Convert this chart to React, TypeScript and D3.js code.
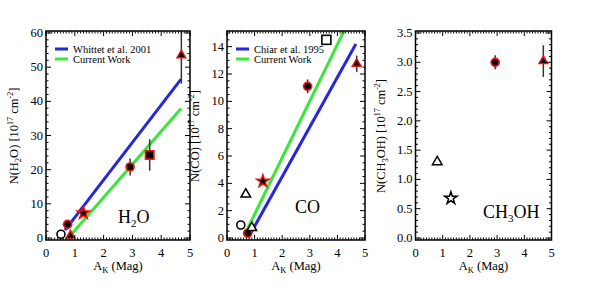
import * as d3 from "d3";

type Pt = { x: number; y: number; err?: number; sym: string; open?: boolean };

// ---- data ----
const h2oPoints: Pt[] = [
  { x: 0.52, y: 1.1, sym: "circle", open: true },
  { x: 0.75, y: 4.0, sym: "circle" },
  { x: 0.85, y: 0.7, sym: "triangle" },
  { x: 1.3, y: 7.3, sym: "star" },
  { x: 2.92, y: 20.8, err: 2.5, sym: "circle" },
  { x: 3.6, y: 24.3, err: 4.6, sym: "square" },
  { x: 4.7, y: 53.5, err: 8.3, sym: "triangle" },
];
const h2oWhittet: [number, number][] = [[0.66, 2.3], [4.69, 46.5]];
const h2oCurrent: [number, number][] = [[0.78, 0.1], [4.69, 37.9]];

const coPoints: Pt[] = [
  { x: 0.5, y: 0.95, sym: "circle", open: true },
  { x: 0.68, y: 3.2, sym: "triangle", open: true },
  { x: 0.75, y: 0.35, sym: "circle" },
  { x: 0.9, y: 0.75, sym: "triangle", open: true },
  { x: 1.3, y: 4.15, sym: "star" },
  { x: 2.92, y: 11.1, err: 0.5, sym: "circle" },
  { x: 3.6, y: 14.5, sym: "square", open: true },
  { x: 4.7, y: 12.75, err: 0.6, sym: "triangle" },
];
const coChiar: [number, number][] = [[0.78, 0.05], [4.67, 14.2]];
const coCurrent: [number, number][] = [[0.72, 0.58], [4.7, 17.06]];

const ch3ohPoints: Pt[] = [
  { x: 0.8, y: 1.3, sym: "triangle", open: true },
  { x: 1.3, y: 0.68, sym: "star", open: true },
  { x: 2.93, y: 3.0, err: 0.12, sym: "circle" },
  { x: 4.7, y: 3.02, err: 0.27, sym: "triangle" },
];

const xTicks = [0, 1, 2, 3, 4, 5];
const h2oTicks = [0, 10, 20, 30, 40, 50, 60];
const coTicks = [0, 2, 4, 6, 8, 10, 12, 14];
const ch3ohTicks = [0, 0.5, 1, 1.5, 2, 2.5, 3, 3.5];

const BLUE = "#2626dc";
const GREEN = "#3ae63a";
const RED = "#ee1111";
const FONT = '"Liberation Serif", "DejaVu Serif", serif';

type Panel = {
  id: string;
  left: number;
  right: number;
  yMax: number;
  yTicks: number[];
  yMinor: number;
  fmt: (v: number) => string;
  points: Pt[];
  lines: { pts: [number, number][]; color: string; name: string }[];
  yLabel: "h2o" | "co" | "ch3oh";
  labelX: number;
  ann: { x: number; y: number };
};

const panels: Panel[] = [
  {
    id: "p1", left: 46, right: 190, yMax: 60, yTicks: h2oTicks, yMinor: 2,
    fmt: (v) => String(v), points: h2oPoints,
    lines: [
      { pts: h2oWhittet, color: BLUE, name: "Whittet et al. 2001" },
      { pts: h2oCurrent, color: GREEN, name: "Current Work" },
    ],
    yLabel: "h2o", labelX: 18, ann: { x: 118, y: 223 },
  },
  {
    id: "p2", left: 227, right: 365, yMax: 15, yTicks: coTicks, yMinor: 0.5,
    fmt: (v) => String(v), points: coPoints,
    lines: [
      { pts: coChiar, color: BLUE, name: "Chiar et al. 1995" },
      { pts: coCurrent, color: GREEN, name: "Current Work" },
    ],
    yLabel: "co", labelX: 199, ann: { x: 295, y: 213 },
  },
  {
    id: "p3", left: 415.5, right: 551.5, yMax: 3.5, yTicks: ch3ohTicks, yMinor: 0.1,
    fmt: (v) => v.toFixed(1), points: ch3ohPoints, lines: [],
    yLabel: "ch3oh", labelX: 385, ann: { x: 483, y: 218 },
  },
];

const TOP = 31;
const BOTTOM = 240;
const serif = { fontFamily: FONT };

function marker(p: Pt, cx: number, cy: number, key: string) {
  const t = `translate(${cx},${cy})`;
  if (p.open) {
    if (p.sym === "circle")
      return <circle key={key} cx={cx} cy={cy} r={4} fill="white" stroke="black" strokeWidth={1.6} />;
    if (p.sym === "square")
      return <rect key={key} x={cx - 4.5} y={cy - 4.5} width={9} height={9} fill="white" stroke="black" strokeWidth={1.6} />;
    const type = p.sym === "star" ? d3.symbolStar : d3.symbolTriangle;
    const size = p.sym === "star" ? 48 : 40;
    return <path key={key} transform={t} d={d3.symbol().type(type).size(size)()!} fill="white" stroke="black" strokeWidth={1.5} />;
  }
  if (p.sym === "circle")
    return (
      <g key={key}>
        <circle cx={cx} cy={cy} r={4.8} fill={RED} />
        <circle cx={cx} cy={cy} r={3.1} fill="black" />
      </g>
    );
  if (p.sym === "square")
    return (
      <g key={key}>
        <rect x={cx - 5} y={cy - 5} width={10} height={10} fill={RED} />
        <rect x={cx - 3.3} y={cy - 3.3} width={6.6} height={6.6} fill="black" />
      </g>
    );
  const type = p.sym === "star" ? d3.symbolStar : d3.symbolTriangle;
  const [o, i] = p.sym === "star" ? [90, 22] : [55, 18];
  return (
    <g key={key} transform={t}>
      <path d={d3.symbol().type(type).size(o)()!} fill={RED} />
      <path d={d3.symbol().type(type).size(i)()!} fill="black" />
    </g>
  );
}

function YLabel({ kind, x, y }: { kind: string; x: number; y: number }) {
  const name =
    kind === "h2o" ? (
      <>N(H<tspan dy={3} fontSize={8.5}>2</tspan><tspan dy={-3}>O) [10</tspan></>
    ) : kind === "co" ? (
      <>N(CO) [10</>
    ) : (
      <>N(CH<tspan dy={3} fontSize={8.5}>3</tspan><tspan dy={-3}>OH) [10</tspan></>
    );
  return (
    <text transform={`translate(${x},${y}) rotate(-90)`} textAnchor="middle" fontSize={12.5} style={serif}>
      {name}
      <tspan dy={-5} fontSize={8}>17</tspan>
      <tspan dy={5}> cm</tspan>
      <tspan dy={-5} fontSize={8}>-2</tspan>
      <tspan dy={5}>]</tspan>
    </text>
  );
}

function PanelView({ p }: { p: Panel }) {
  const x = d3.scaleLinear().domain([0, 5]).range([p.left, p.right]);
  const y = d3.scaleLinear().domain([0, p.yMax]).range([238, 33]);
  const xMinor = d3.range(0, 5.0001, 0.1);
  const yMinor = d3.range(0, p.yMax + 1e-6, p.yMinor);
  const line = d3.line<[number, number]>().x((d) => x(d[0])).y((d) => y(d[1]));
  const ticks: any[] = [];
  xMinor.forEach((v, i) => {
    const major = Math.abs(v - Math.round(v)) < 1e-6;
    const len = major ? 5 : 2.5;
    ticks.push(<line key={`xb${i}`} x1={x(v)} x2={x(v)} y1={BOTTOM} y2={BOTTOM - len} />);
    ticks.push(<line key={`xt${i}`} x1={x(v)} x2={x(v)} y1={TOP} y2={TOP + len} />);
  });
  yMinor.forEach((v, i) => {
    const major = p.yTicks.some((t) => Math.abs(t - v) < 1e-6);
    const len = major ? 5 : 2.5;
    ticks.push(<line key={`yl${i}`} x1={p.left} x2={p.left + len} y1={y(v)} y2={y(v)} />);
    ticks.push(<line key={`yr${i}`} x1={p.right} x2={p.right - len} y1={y(v)} y2={y(v)} />);
  });
  const mid = (p.left + p.right) / 2;
  return (
    <g>
      <defs>
        <clipPath id={`clip-${p.id}`}>
          <rect x={p.left} y={TOP} width={p.right - p.left} height={BOTTOM - TOP} />
        </clipPath>
      </defs>
      <g clipPath={`url(#clip-${p.id})`}>
        {p.lines.map((l, i) => (
          <path key={i} d={line(l.pts)!} stroke={l.color} strokeWidth={3} fill="none" />
        ))}
        {p.points.filter((d) => d.err).map((d, i) => (
          <line key={i} x1={x(d.x)} x2={x(d.x)} y1={y(d.y - d.err!)} y2={y(d.y + d.err!)} stroke="#333" strokeWidth={1.5} />
        ))}
        {p.points.map((d, i) => marker(d, x(d.x), y(d.y), `m${i}`))}
      </g>
      <g stroke="black" strokeWidth={1}>{ticks}</g>
      <rect x={p.left} y={TOP} width={p.right - p.left} height={BOTTOM - TOP} fill="none" stroke="black" strokeWidth={1.5} />
      <g style={serif} fontSize={12.5}>
        {xTicks.map((t) => (
          <text key={t} x={x(t)} y={257} textAnchor="middle">{t}</text>
        ))}
        {p.yTicks.map((t) => (
          <text key={t} x={p.left - 3} y={y(t) + 4} textAnchor="end">{p.fmt(t)}</text>
        ))}
        <text x={mid} y={270} textAnchor="middle">
          A<tspan dy={3} fontSize={8.5}>K</tspan><tspan dy={-3}> (Mag)</tspan>
        </text>
      </g>
      <YLabel kind={p.yLabel} x={p.labelX} y={136} />
      {p.lines.map((l, i) => (
        <g key={i}>
          <line x1={p.left + 9} x2={p.left + 22} y1={49 + i * 10} y2={49 + i * 10} stroke={l.color} strokeWidth={3} />
          <text x={p.left + 27} y={52.5 + i * 10} style={serif} fontSize={10.5}>{l.name}</text>
        </g>
      ))}
      <text x={p.ann.x} y={p.ann.y} style={serif} fontSize={18}>
        {p.yLabel === "h2o" && <>H<tspan dy={4} fontSize={11}>2</tspan><tspan dy={-4}>O</tspan></>}
        {p.yLabel === "co" && <>CO</>}
        {p.yLabel === "ch3oh" && <>CH<tspan dy={4} fontSize={11}>3</tspan><tspan dy={-4}>OH</tspan></>}
      </text>
    </g>
  );
}

export default function App() {
  return (
    <svg width={598} height={292} style={{ position: "absolute", left: 0, top: 0, background: "white" }}>
      {panels.map((p) => (
        <PanelView key={p.id} p={p} />
      ))}
    </svg>
  );
}
